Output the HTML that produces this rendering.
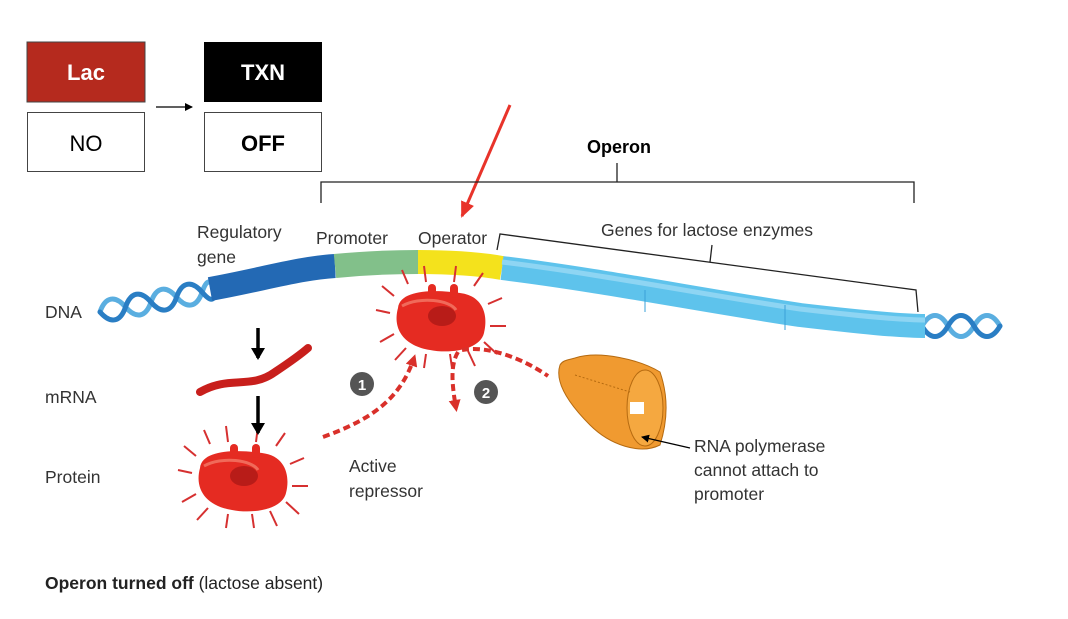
<!DOCTYPE html>
<html><head><meta charset="utf-8"><style>
body{margin:0;background:#fff;width:1068px;height:614px;overflow:hidden;font-family:"Liberation Sans",sans-serif}
</style></head><body>
<svg width="1068" height="614" viewBox="0 0 1068 614" xmlns="http://www.w3.org/2000/svg" font-family="Liberation Sans, sans-serif">
<defs>
<marker id="ah" markerUnits="userSpaceOnUse" markerWidth="8" markerHeight="8" refX="7" refY="4" orient="auto"><path d="M0,0 L8,4 L0,8z" fill="#000"/></marker>
<marker id="bh" markerUnits="userSpaceOnUse" markerWidth="12" markerHeight="14" refX="10" refY="7" orient="auto"><path d="M0,0 L12,7 L0,14z" fill="#000"/></marker>
<marker id="rh" markerUnits="userSpaceOnUse" markerWidth="16" markerHeight="14" refX="14" refY="7" orient="auto"><path d="M0,0 L16,7 L0,14z" fill="#e8332a"/></marker>
<marker id="dh" markerUnits="userSpaceOnUse" markerWidth="12" markerHeight="12" refX="8" refY="6" orient="auto"><path d="M0,0 L12,6 L0,12z" fill="#d9302a"/></marker>
<g id="rep">
 <g stroke="#d63030" stroke-width="2">
  <line x1="-50" y1="-5" x2="-64" y2="-8"/><line x1="-46" y1="-22" x2="-58" y2="-32"/><line x1="-32" y1="-34" x2="-38" y2="-48"/>
  <line x1="-14" y1="-36" x2="-16" y2="-52"/><line x1="14" y1="-36" x2="16" y2="-52"/><line x1="34" y1="-32" x2="43" y2="-45"/>
  <line x1="48" y1="-14" x2="62" y2="-20"/><line x1="50" y1="8" x2="66" y2="8"/><line x1="44" y1="24" x2="57" y2="36"/>
  <line x1="-46" y1="16" x2="-60" y2="24"/><line x1="-34" y1="30" x2="-45" y2="42"/><line x1="-14" y1="36" x2="-16" y2="50"/>
  <line x1="10" y1="36" x2="12" y2="50"/><line x1="28" y1="33" x2="35" y2="48"/>
 </g>
 <path d="M-42,-10 C-40,-30 0,-28 20,-25 C45,-22 48,0 44,15 C40,32 10,36 -10,32 C-35,28 -48,12 -42,-10z" fill="#e52b22"/>
 <rect x="-12" y="-34" width="8" height="14" rx="4" fill="#e52b22"/><rect x="10" y="-34" width="8" height="14" rx="4" fill="#e52b22"/>
 <ellipse cx="2" cy="-2" rx="14" ry="10" fill="#b81c18"/>
 <path d="M-38,-12 C-20,-22 10,-18 16,-8" stroke="#f06a5a" stroke-width="3" fill="none"/>
</g>
</defs>

<!-- top boxes -->
<rect x="27" y="42" width="118" height="60" fill="#b52a1e" stroke="#444" stroke-width="1"/>
<text x="86" y="80" font-size="22" font-weight="bold" fill="#fff" text-anchor="middle">Lac</text>
<rect x="27.5" y="112.5" width="117" height="59" fill="#fff" stroke="#444" stroke-width="1"/>
<text x="86" y="151" font-size="22" fill="#000" text-anchor="middle">NO</text>
<rect x="204" y="42" width="118" height="60" fill="#000"/>
<text x="263" y="80" font-size="22" font-weight="bold" fill="#fff" text-anchor="middle">TXN</text>
<rect x="204.5" y="112.5" width="117" height="59" fill="#fff" stroke="#444" stroke-width="1"/>
<text x="263" y="151" font-size="22" font-weight="bold" fill="#000" text-anchor="middle">OFF</text>
<line x1="156" y1="107" x2="192" y2="107" stroke="#000" stroke-width="1.2" marker-end="url(#ah)"/>

<!-- red pointer -->
<line x1="510" y1="105" x2="462" y2="216" stroke="#e8332a" stroke-width="3" marker-end="url(#rh)"/>

<!-- operon bracket -->
<text x="619" y="153" font-size="18" font-weight="bold" text-anchor="middle">Operon</text>
<path d="M321,203 V182 H914 V203 M617,182 V163" stroke="#222" stroke-width="1.3" fill="none"/>

<!-- genes bracket -->
<text x="707" y="236" font-size="17.5" fill="#333" text-anchor="middle">Genes for lactose enzymes</text>
<path d="M497,250 L500,234 L916,290 L918,312 M710,262 L712,245" stroke="#222" stroke-width="1.3" fill="none"/>

<!-- labels -->
<g font-size="17.5" fill="#333">
<text x="197" y="238">Regulatory</text><text x="197" y="263">gene</text>
<text x="316" y="244">Promoter</text>
<text x="418" y="244">Operator</text>
<text x="45" y="318">DNA</text>
<text x="45" y="403">mRNA</text>
<text x="45" y="483">Protein</text>
<text x="349" y="472">Active</text><text x="349" y="497">repressor</text>
<text x="694" y="452">RNA polymerase</text><text x="694" y="476">cannot attach to</text><text x="694" y="500">promoter</text>
</g>
<text x="45" y="589" font-size="17.5" fill="#222"><tspan font-weight="bold">Operon turned off</tspan> (lactose absent)</text>

<!-- DNA helices -->
<g fill="none" stroke-linecap="round">
<g transform="translate(100,312) rotate(-11)">
 <path d="M0,0 C8,-14 18,-14 26,0 S44,14 52,0 S70,-14 78,0 S96,14 104,0 S114,-8 118,-4" stroke="#5aaee0" stroke-width="5"/>
 <path d="M0,0 C8,14 18,14 26,0 S44,-14 52,0 S70,14 78,0 S96,-14 104,0 S114,8 118,4" stroke="#2a7ec4" stroke-width="5"/>
</g>
<g transform="translate(922,326)">
 <path d="M0,0 C8,-14 18,-14 26,0 S44,14 52,0 S70,-14 78,0" stroke="#5aaee0" stroke-width="5"/>
 <path d="M0,0 C8,14 18,14 26,0 S44,-14 52,0 S70,14 78,0" stroke="#2a7ec4" stroke-width="5"/>
</g>
</g>
<g fill="none" stroke-linecap="butt">
<path d="M210,289 C260,280 300,268 335,266" stroke="#2369b4" stroke-width="24"/>
<path d="M335,266 C365,263 395,262 418,262" stroke="#82c08a" stroke-width="24"/>
<path d="M418,262 C450,262 480,264 502,268" stroke="#f4e21c" stroke-width="24"/>
<path d="M502,268 C600,280 700,300 800,315 C860,322 900,326 925,326" stroke="#5ec3ec" stroke-width="24"/>
<path d="M502,268 C600,280 700,300 800,315 C860,322 900,326 925,326" stroke="#8ed5f3" stroke-width="5" transform="translate(0,-6)"/>
<line x1="645" y1="290" x2="645" y2="312" stroke="#3aa0d8" stroke-width="1"/>
<line x1="785" y1="305" x2="785" y2="330" stroke="#3aa0d8" stroke-width="1"/>
</g>

<!-- repressors -->
<use href="#rep" transform="translate(440,318)"/>
<use href="#rep" transform="translate(242,478)"/>

<!-- mRNA -->
<path d="M200,392 C230,375 250,390 275,372 C290,362 300,355 308,348" stroke="#c81f1c" stroke-width="8" fill="none" stroke-linecap="round"/>

<!-- black arrows -->
<g stroke="#000" stroke-width="3.5" marker-end="url(#bh)">
<line x1="258" y1="328" x2="258" y2="358"/>
<line x1="258" y1="396" x2="258" y2="433"/>
</g>

<!-- dotted red arrows -->
<g stroke="#d9302a" stroke-width="4" stroke-dasharray="7 4" fill="none">
<path d="M323,437 C370,420 400,400 414,358" marker-end="url(#dh)"/>
<path d="M458,352 C450,365 452,385 456,408" marker-end="url(#dh)"/>
<path d="M462,350 C490,345 525,360 548,376"/>
</g>

<circle cx="362" cy="384" r="12" fill="#555"/><text x="362" y="390" font-size="15" font-weight="bold" fill="#fff" text-anchor="middle">1</text>
<circle cx="486" cy="392" r="12" fill="#555"/><text x="486" y="398" font-size="15" font-weight="bold" fill="#fff" text-anchor="middle">2</text>

<!-- RNA polymerase -->
<path d="M575,358 C600,350 640,360 660,372 C668,395 668,420 660,445 C640,455 610,445 590,425 C565,400 555,380 560,365 C563,360 568,360 575,358z" fill="#f09a30" stroke="#b56a10" stroke-width="1"/>
<ellipse cx="645" cy="408" rx="18" ry="38" fill="#f5a840" stroke="#b56a10" stroke-width="1"/>
<path d="M630,402 h14 v12 h-14z" fill="#fff"/>
<path d="M575,375 L630,392" stroke="#b56a10" stroke-width="1" stroke-dasharray="2 2"/>
<line x1="690" y1="448" x2="642" y2="437" stroke="#000" stroke-width="1.3" marker-end="url(#ah)"/>
</svg>
</body></html>
